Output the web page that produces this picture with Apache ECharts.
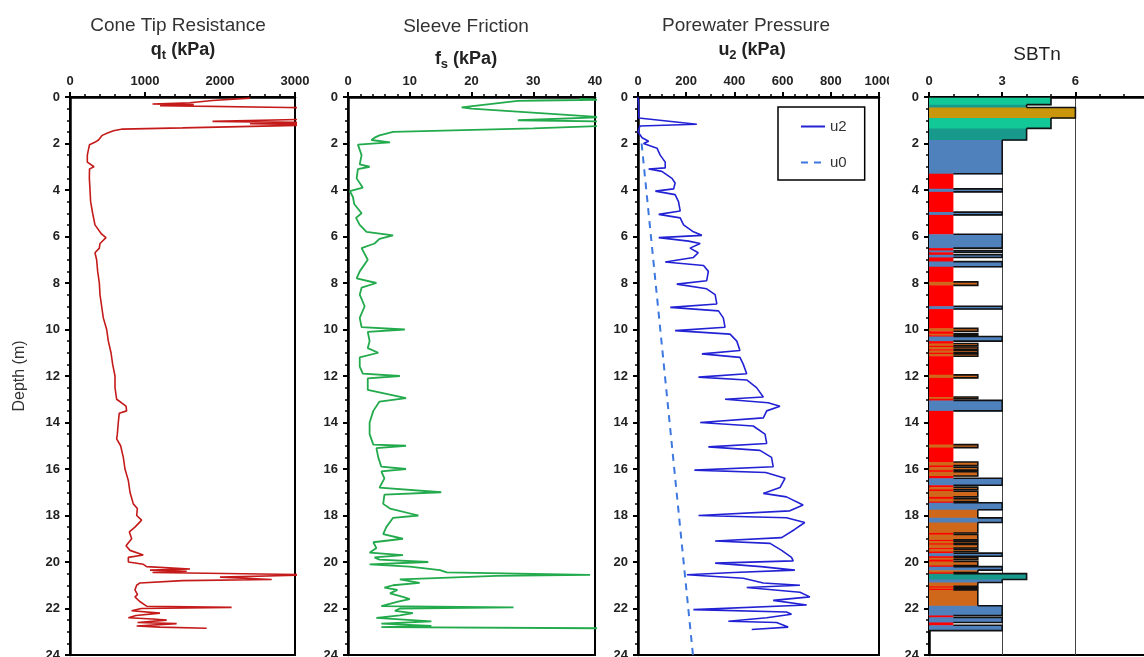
<!DOCTYPE html>
<html><head><meta charset="utf-8">
<script src="https://cdn.jsdelivr.net/npm/echarts@6/dist/echarts.min.js"></script>
<style>html,body{margin:0;padding:0;background:#fff}#c{width:1144px;height:657px}</style>
</head><body><div id="c"></div>
<script>
// ---------- data (depth m, value) ----------
const qtPoints = [[0.05,2400],[0.15,1900],[0.25,1600],[0.3,1100],[0.33,1650],[0.37,1200],[0.45,2900],[0.47,3300],[0.95,3300],[1.05,1900],[1.1,3300],[1.15,2400],[1.2,3300],[1.28,3300],[1.33,1500],[1.38,700],[1.45,580],[1.55,500],[1.65,430],[1.85,380],[1.95,330],[2.0,350],[2.05,260],[2.2,250],[2.5,231],[2.8,231],[3.0,320],[3.05,290],[3.1,260],[3.5,258],[4.0,267],[4.5,275],[5.0,302],[5.5,333],[5.9,422],[6.05,480],[6.3,400],[6.5,391],[6.7,333],[7.0,355],[7.5,369],[8.0,391],[8.5,400],[9.0,422],[9.5,444],[10.0,489],[10.5,511],[11.0,547],[11.5,569],[12.0,600],[12.5,600],[13.0,622],[13.3,747],[13.5,755],[13.6,657],[14.0,644],[14.5,631],[14.7,622],[15.0,675],[15.5,711],[16.0,733],[16.5,778],[17.0,800],[17.5,844],[17.7,898],[18.0,889],[18.2,955],[18.5,866],[18.7,791],[19.0,822],[19.3,747],[19.5,800],[19.7,977],[19.8,778],[20.0,778],[20.1,978],[20.2,1022],[20.3,1600],[20.35,1067],[20.4,1556],[20.45,1100],[20.55,3300],[20.65,2000],[20.75,2690],[20.8,1500],[20.9,933],[21.0,889],[21.2,866],[21.4,900],[21.5,866],[21.7,930],[21.9,1022],[21.95,2155],[22.0,950],[22.1,822],[22.2,1200],[22.3,880],[22.4,778],[22.45,1100],[22.5,1289],[22.6,900],[22.65,1422],[22.75,889],[22.8,1200],[22.85,1822]];

const fsPoints = [[0.08,37.5],[0.12,41],[0.15,31],[0.17,27.5],[0.45,18.4],[0.5,20],[0.87,41],[0.95,41],[1.0,27.5],[1.05,41],[1.15,41],[1.25,41],[1.35,30],[1.5,7.3],[1.65,5.1],[1.75,4.3],[1.85,3.8],[1.95,6.8],[2.05,1.6],[2.5,2.2],[2.9,1.9],[3.0,3.5],[3.1,1.6],[3.5,1.4],[3.9,2.4],[4.05,0.3],[4.3,0.8],[4.6,1.0],[5.0,2.2],[5.2,1.3],[5.5,1.9],[5.8,3.0],[5.95,7.3],[6.1,5.1],[6.3,4.3],[6.5,2.2],[7.0,3.2],[7.5,1.9],[7.8,1.4],[8.0,4.6],[8.2,2.2],[8.5,1.9],[9.0,2.7],[9.5,1.9],[9.9,2.2],[10.0,9.2],[10.1,3.2],[10.5,3.5],[10.8,3.2],[11.0,4.9],[11.2,1.9],[11.6,1.9],[11.9,2.4],[12.0,8.4],[12.1,3.2],[12.6,3.2],[12.95,9.4],[13.1,5.1],[13.5,4.1],[14.0,3.5],[14.5,3.5],[14.95,4.1],[15.0,9.4],[15.1,4.6],[15.5,4.9],[15.9,5.4],[16.0,9.4],[16.1,5.4],[16.4,5.9],[16.8,5.1],[17.0,15.1],[17.1,5.9],[17.5,5.7],[17.7,6.8],[18.0,11.4],[18.1,7.3],[18.5,6.2],[18.8,5.7],[19.0,8.9],[19.15,4.1],[19.4,4.6],[19.6,3.5],[19.7,8.9],[19.8,4.3],[19.9,5.1],[20.0,13],[20.1,3.5],[20.2,10],[20.35,14.9],[20.45,16],[20.55,39.2],[20.6,24],[20.7,13],[20.75,8.4],[20.9,11.6],[21.0,7.3],[21.1,5.9],[21.2,8],[21.35,6.8],[21.5,8.9],[21.6,10],[21.7,8.1],[21.9,5.4],[21.95,26.8],[22.0,8.4],[22.1,7.6],[22.2,10.5],[22.3,8.4],[22.4,4.6],[22.55,13.5],[22.65,5.4],[22.75,13.5],[22.8,5.4],[22.85,41]];

const u2Points = [[0,0],[0.5,3],[0.9,3],[1.17,244],[1.25,8],[1.5,0],[1.75,17],[1.9,44],[2.0,23],[2.2,79],[2.5,92],[2.8,113],[3.05,113],[3.1,44],[3.2,99],[3.5,141],[3.7,154],[3.95,148],[4.05,72],[4.2,154],[4.5,168],[4.9,175],[5.05,86],[5.2,175],[5.5,189],[5.8,230],[5.95,265],[6.05,86],[6.2,210],[6.3,258],[6.5,216],[6.7,250],[6.9,230],[7.1,113],[7.25,272],[7.5,292],[7.9,285],[8.05,161],[8.25,285],[8.5,320],[8.9,327],[9.05,134],[9.2,334],[9.5,354],[9.9,361],[10.05,154],[10.2,382],[10.5,410],[10.9,423],[11.05,265],[11.2,423],[11.5,437],[11.9,451],[12.05,251],[12.17,451],[12.5,492],[12.9,520],[13.0,361],[13.15,540],[13.3,589],[13.5,534],[13.8,520],[14.0,258],[14.15,478],[14.5,527],[14.9,534],[15.05,292],[15.2,506],[15.5,554],[15.9,561],[16.05,234],[16.15,530],[16.4,610],[16.8,589],[17.05,520],[17.2,616],[17.55,685],[17.8,630],[18.0,251],[18.1,616],[18.3,692],[18.6,650],[18.95,596],[19.1,320],[19.2,548],[19.5,596],[19.8,637],[19.95,644],[20.05,320],[20.2,510],[20.35,651],[20.45,396],[20.55,203],[20.7,437],[20.9,520],[21.0,672],[21.1,451],[21.3,672],[21.5,713],[21.65,561],[21.85,700],[22.05,230],[22.15,616],[22.25,637],[22.4,534],[22.55,375],[22.6,575],[22.8,623],[22.9,472]];

const u0Points = [[2,15],[24,228]];

// SBTn layers: [top depth, zone]; last layer ends at sbtEnd
const sbtLayers = [[0,5],[0.33,4],[0.45,6],[0.9,5],[1.35,4],[1.85,3],[3.3,1],[3.95,3],[4.08,1],[4.95,3],[5.07,1],[5.9,3],[6.5,1],[6.6,3],[6.68,1],[6.78,3],[6.9,1],[7.08,3],[7.3,1],[7.95,2],[8.1,1],[9.0,3],[9.12,1],[9.95,2],[10.08,1],[10.18,2],[10.25,1],[10.3,3],[10.5,1],[10.6,2],[10.7,1],[10.75,2],[10.85,1],[10.9,2],[11.0,1],[11.05,2],[11.15,1],[11.95,2],[12.08,1],[12.9,2],[12.98,1],[13.05,3],[13.5,1],[14.95,2],[15.08,1],[15.7,2],[15.85,1],[15.92,2],[16.05,1],[16.12,2],[16.3,1],[16.4,3],[16.7,1],[16.78,2],[16.88,1],[16.95,2],[17.2,1],[17.28,2],[17.4,1],[17.45,3],[17.75,2],[18.1,3],[18.3,2],[18.75,1],[18.82,2],[19.05,1],[19.1,2],[19.2,1],[19.25,2],[19.4,1],[19.45,2],[19.55,1],[19.62,3],[19.75,1],[19.82,2],[19.9,1],[19.98,2],[20.15,1],[20.2,3],[20.35,2],[20.45,1],[20.5,4],[20.75,3],[20.88,2],[21.05,1],[21.1,2],[21.15,1],[21.2,2],[21.88,3],[22.3,1],[22.38,3],[22.6,1],[22.72,3]];
const sbtEnd = 22.95;
const zoneColors = {1:'#ff0000',2:'#d0681c',3:'#4f81bd',4:'#17998b',5:'#12c897',6:'#c9960c'};

// axis ranges [min, max, interval]
const depthAxis = [0, 24, 2];
const qtAxis = [0, 3000, 1000];
const fsAxis = [0, 40, 10];
const uAxis = [0, 1000, 200];
const sbtAxis = [0, 9, 3];

// ---------- build ----------
const FONT = "'Liberation Sans', Arial, sans-serif";
const TOP = 97, H = 558;
const grids = [
  {left:70, top:TOP, width:225, height:H},
  {left:348, top:TOP, width:247, height:H},
  {left:638, top:TOP, width:241, height:H},
  {left:929, top:TOP, width:219.6, height:H}
].map(g => Object.assign(g, {show:true, borderColor:'#000', borderWidth:2, backgroundColor:'transparent',
  outerBoundsMode:'none', containLabel:false}));

const axisLine = {show:true, onZero:false, lineStyle:{color:'#000', width:2.5}};
const axisTick = {show:true, length:5, lineStyle:{color:'#000', width:2}};
const labelStyle = {fontFamily:FONT, fontSize:13, fontWeight:'bold', color:'#222', formatter: v => String(v)};

function xAx(i, r, minorSplit, split) {
  return {gridIndex:i, type:'value', position:'top', min:r[0], max:r[1], interval:r[2],
    axisLine, axisTick, minorTick:{show:true, splitNumber:minorSplit, length:3, lineStyle:{color:'#000', width:1.5}},
    axisLabel:Object.assign({margin:9}, labelStyle),
    splitLine:{show:!!split, lineStyle:{color:'#444', width:1}}};
}
function yAx(i, named) {
  const a = {gridIndex:i, type:'value', inverse:true, min:depthAxis[0], max:depthAxis[1], interval:depthAxis[2],
    axisLine, axisTick, minorTick:{show:true, splitNumber:4, length:3, lineStyle:{color:'#000', width:1.5}},
    axisLabel:Object.assign({margin:10}, labelStyle), splitLine:{show:false}};
  if (named) Object.assign(a, {name:'Depth (m)', nameLocation:'middle', nameGap:42,
    nameTextStyle:{fontFamily:FONT, fontSize:16, color:'#333'}});
  return a;
}
const toXY = pts => pts.map(p => [p[1], p[0]]);

const sbtData = sbtLayers.map((l, k) => {
  const bot = k + 1 < sbtLayers.length ? sbtLayers[k+1][0] : sbtEnd;
  const prev = k > 0 ? sbtLayers[k-1][1] : 0;
  const next = k + 1 < sbtLayers.length ? sbtLayers[k+1][1] : 0;
  return [l[0], bot, l[1], prev, next];
});

function renderSbt(params, api) {
  const top = api.value(0), bot = api.value(1), z = api.value(2), pz = api.value(3), nz = api.value(4);
  const a = api.coord([0, top]), b = api.coord([z, bot]);
  const children = [{type:'rect', shape:{x:a[0], y:a[1], width:b[0]-a[0], height:b[1]-a[1]+0.5},
    style:{fill:zoneColors[z]}}];
  if (z >= 2) {
    const pts = [];
    if (pz < z) pts.push(api.coord([pz, top]));
    pts.push(api.coord([z, top]), api.coord([z, bot]));
    if (nz < z) pts.push(api.coord([nz, bot]));
    children.push({type:'polyline', shape:{points:pts}, style:{stroke:'#111', lineWidth:1.6, fill:null}, z2:5});
  }
  return {type:'group', children};
}

const titleBase = {textAlign:'center', padding:0};
const tStyle = {fontFamily:FONT, fontSize:19, fontWeight:'normal', color:'#333'};
function subTitle(main, sub) {
  return {text:'{a|' + main + '}{b|' + sub + '}{a| (kPa)}',
    textStyle:{rich:{
      a:{fontFamily:FONT, fontSize:18, fontWeight:'bold', color:'#222', lineHeight:24},
      b:{fontFamily:FONT, fontSize:13, fontWeight:'bold', color:'#222', lineHeight:13, verticalAlign:'bottom'}}}};
}

const option = {
  animation:false,
  backgroundColor:'#fff',
  title:[
    Object.assign({text:'Cone Tip Resistance', left:178, top:16, textStyle:tStyle}, titleBase),
    Object.assign(subTitle('q','t'), {left:183, top:38}, titleBase),
    Object.assign({text:'Sleeve Friction', left:466, top:17, textStyle:tStyle}, titleBase),
    Object.assign(subTitle('f','s'), {left:466, top:47}, titleBase),
    Object.assign({text:'Porewater Pressure', left:746, top:16, textStyle:tStyle}, titleBase),
    Object.assign(subTitle('u','2'), {left:752, top:38}, titleBase),
    Object.assign({text:'SBTn', left:1037, top:45, textStyle:Object.assign({}, tStyle, {fontSize:19, color:'#222'})}, titleBase)
  ],
  legend:{data:['u2','u0'], orient:'vertical', left:778, top:107, padding:[12,18,10,22], itemGap:21,
    itemWidth:24, itemHeight:14, borderColor:'#000', borderWidth:1.5, backgroundColor:'#fff',
    itemStyle:{opacity:0, color:'transparent', borderColor:'transparent'},
    textStyle:{fontFamily:FONT, fontSize:15, color:'#333'}},
  grid:grids,
  xAxis:[xAx(0, qtAxis, 5), xAx(1, fsAxis, 5), xAx(2, uAxis, 4), xAx(3, sbtAxis, 3, true)],
  yAxis:[yAx(0, true), yAx(1), yAx(2), yAx(3)],
  graphic:[{type:'rect', shape:{x:889, y:66, width:30, height:24}, style:{fill:'#fff'}, z:100}],
  series:[
    {name:'qt', type:'line', xAxisIndex:0, yAxisIndex:0, data:toXY(qtPoints), symbol:'none',
      lineStyle:{color:'#c41a1a', width:1.6}},
    {name:'fs', type:'line', xAxisIndex:1, yAxisIndex:1, data:toXY(fsPoints), symbol:'none',
      lineStyle:{color:'#22aa4c', width:1.8}},
    {name:'u2', type:'line', xAxisIndex:2, yAxisIndex:2, data:toXY(u2Points), symbol:'none',
      itemStyle:{color:'#2222d4'}, lineStyle:{color:'#2222d4', width:1.6}},
    {name:'u0', type:'line', xAxisIndex:2, yAxisIndex:2, data:toXY(u0Points), symbol:'none',
      itemStyle:{color:'#3c78e0'}, lineStyle:{color:'#3c78e0', width:2, type:[7,6]}},
    {name:'SBTn', type:'custom', xAxisIndex:3, yAxisIndex:3, data:sbtData, renderItem:renderSbt,
      encode:{x:2, y:[0,1]}, clip:true}
  ]
};
const chart = echarts.init(document.getElementById('c'), null, {renderer:'canvas'});
chart.setOption(option);
</script></body></html>
